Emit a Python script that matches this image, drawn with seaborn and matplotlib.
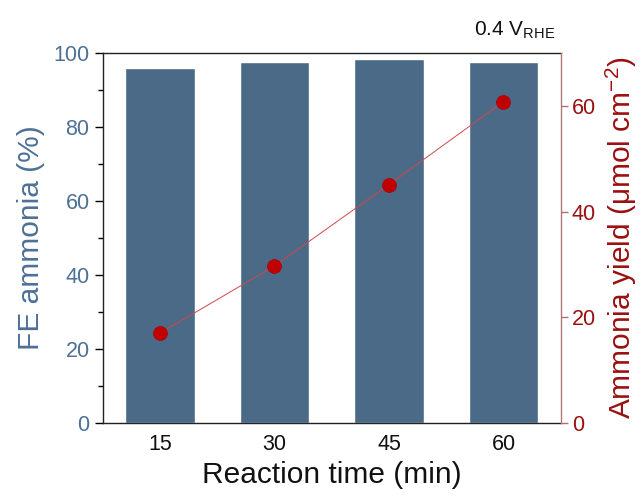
import matplotlib
matplotlib.use("Agg")
import matplotlib.pyplot as plt
import seaborn as sns
import pandas as pd
from matplotlib.ticker import MultipleLocator

times = ["15", "30", "45", "60"]
fe_values = [95.9, 97.5, 98.5, 97.7]
yield_values = [17.0, 29.7, 45.1, 60.8]

sns.set_theme(style="white")
plt.rcParams['font.family'] = ['Liberation Sans', 'DejaVu Sans']
plt.rcParams['mathtext.fontset'] = 'custom'
plt.rcParams['mathtext.rm'] = 'Liberation Sans'
plt.rcParams['mathtext.it'] = 'Liberation Sans:italic'

bar_color = "#4a6a87"
left_color = "#4d7096"
right_color = "#9b1010"

df = pd.DataFrame({"time": times, "fe": fe_values, "yield": yield_values})

fig = plt.figure(figsize=(6.44, 4.99), dpi=100)
ax = fig.add_axes([102.7/644, 1 - 423/499, 458/644, 370/499])

sns.barplot(data=df, x="time", y="fe", color=bar_color, saturation=1, width=0.61, ax=ax, zorder=2)
ax.set_xlim(-0.5, 3.5)
ax.set_ylim(0, 100)
ax.yaxis.set_major_locator(MultipleLocator(20))
ax.yaxis.set_minor_locator(MultipleLocator(10))
ax.tick_params(axis='y', which='major', direction='out', length=6, width=1, color='black', labelsize=15.5, labelcolor=left_color, left=True)
ax.tick_params(axis='y', which='minor', direction='out', length=3.5, width=1, color='black', left=True)
ax.tick_params(axis='x', direction='out', length=0, labelsize=15.5, labelcolor='#111111', pad=8)
ax.set_xlabel("Reaction time (min)", fontsize=21.5, color='#111111', labelpad=4)
ax.set_ylabel("FE ammonia (%)", fontsize=21.5, color=left_color, labelpad=6)
for s in ['left', 'top', 'bottom']:
    ax.spines[s].set_color('#222222')
    ax.spines[s].set_linewidth(1)
ax.spines['right'].set_visible(False)

ax2 = ax.twinx()
sns.pointplot(data=df, x="time", y="yield", color="#c00000", markers='o', linestyles='-',
              markersize=10, linewidth=0.7, ax=ax2, zorder=5)
ln = ax2.lines[0]
ln.set_color("#d04848")
ln.set_markerfacecolor("#c00000")
ln.set_markeredgecolor("#b00000")
ax2.set_xlim(-0.5, 3.5)
ax2.set_ylim(0, 70)
ax2.yaxis.set_major_locator(MultipleLocator(20))
ax2.tick_params(axis='y', which='major', direction='out', length=5, width=1, color='#b07070', labelsize=15.5, labelcolor=right_color, right=True, pad=3)
ax2.set_ylabel("Ammonia yield (μmol cm$^{-2}$)", fontsize=21.5, color=right_color, labelpad=6)
ax2.set_xlabel("")
for s in ['left', 'top', 'bottom']:
    ax2.spines[s].set_visible(False)
ax2.spines['right'].set_color('#b07878')
ax2.spines['right'].set_linewidth(1)

fig.text(555/644, 1 - 30/499, "0.4 V$_{\\mathrm{RHE}}$", ha='right', va='center', fontsize=15, color='#111111')

fig.savefig("out.png", dpi=100)
